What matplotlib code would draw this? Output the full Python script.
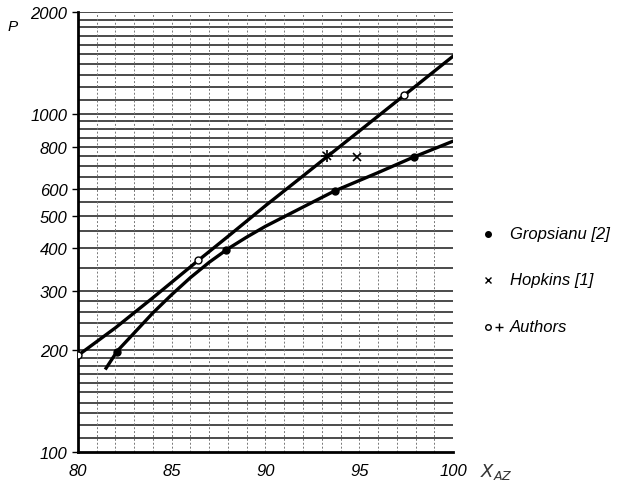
import numpy as np
import matplotlib.pyplot as plt
from matplotlib.lines import Line2D
from matplotlib.ticker import FixedLocator, FixedFormatter, NullLocator

plt.rcParams['font.family'] = ['Liberation Sans', 'DejaVu Sans']

# curves
x_authors_curve = [80, 82, 84, 86.4, 88, 90, 92, 93.3, 95, 97.4, 100]
p_authors_curve = [193, 233, 286, 368, 434, 535, 655, 748, 889, 1135, 1480]

x_grop_curve = [81.5, 82.1, 83, 84, 85, 86, 87, 88, 89, 90, 92, 93.7, 96, 97.9, 100]
p_grop_curve = [177, 199, 225, 258, 292, 328, 364, 399, 432, 465, 530, 592, 670, 745, 830]

# measured points
x_grop = [82.1, 87.9, 93.7, 97.9]
p_grop = [198, 396, 592, 745]

x_hopkins = [93.3, 94.9]
p_hopkins = [748, 743]

x_authors = [80, 86.4, 97.4]
p_authors = [193, 370, 1135]
x_authors_plus = [93.3]
p_authors_plus = [748]

yticks = [100, 200, 300, 400, 500, 600, 800, 1000, 2000]
xticks = [80, 85, 90, 95, 100]

fig = plt.figure(figsize=(6.36, 4.89), dpi=100)
ax = fig.add_axes([0.1226, 0.0736, 0.5897, 0.8998])
ax.set_yscale('log')
ax.set_xlim(80, 100)
ax.set_ylim(100, 2000)

# paper grid
levels = list(range(110, 200, 10)) + list(range(200, 300, 20)) + \
    list(range(300, 1000, 50)) + list(range(1000, 2001, 100))
for lv in levels:
    ax.axhline(lv, color='#1a1a1a', lw=1.1, zorder=1)
for xv in range(81, 101):
    ax.axvline(xv, color='#777777', lw=0.7, ls=(0, (2, 2)), zorder=1)

ax.plot(x_authors_curve, p_authors_curve, color='black', lw=2.4, zorder=3)
ax.plot(x_grop_curve, p_grop_curve, color='black', lw=2.4, zorder=3)

ax.plot(x_grop, p_grop, 'o', color='black', ms=5, zorder=4)
ax.plot(x_hopkins, p_hopkins, 'x', color='black', ms=6, mew=1.2, zorder=4)
ax.plot(x_authors, p_authors, 'o', mfc='white', mec='black', ms=5, mew=1, zorder=4)
ax.plot(x_authors_plus, p_authors_plus, '+', color='black', ms=8, mew=1.2, zorder=4)

ax.yaxis.set_major_locator(FixedLocator(yticks))
ax.yaxis.set_major_formatter(FixedFormatter([str(v) for v in yticks]))
ax.yaxis.set_minor_locator(NullLocator())
ax.set_xticks(xticks)
ax.set_xticklabels([str(v) for v in xticks])
ax.tick_params(axis='both', labelsize=12, length=4, width=1, direction='out')
ax.tick_params(axis='x', length=0, pad=8)
for lab in ax.get_xticklabels() + ax.get_yticklabels():
    lab.set_style('italic')

for side in ['top', 'right']:
    ax.spines[side].set_visible(False)
ax.spines['left'].set_linewidth(2)
ax.spines['bottom'].set_linewidth(2)

fig.text(0.012, 0.945, 'P', fontsize=11, style='italic', ha='left', va='center')
fig.text(0.755, 0.035, r'$\mathit{X}_{\mathit{AZ}}$', fontsize=13, ha='left', va='center',
         color='#333333')

# legend drawn by hand
fig.add_artist(Line2D([0.768], [1 - 235 / 489], marker='o', color='black', ms=4,
                      transform=fig.transFigure))
fig.text(0.802, 1 - 235 / 489, 'Gropsianu [2]', fontsize=12, style='italic', va='center')
fig.add_artist(Line2D([0.768], [1 - 281 / 489], marker='x', color='black', ms=4,
                      mew=1, transform=fig.transFigure))
fig.text(0.802, 1 - 281 / 489, 'Hopkins [1]', fontsize=12, style='italic', va='center')
fig.add_artist(Line2D([0.768], [1 - 328 / 489], marker='o', mfc='white', mec='black',
                      ms=4, transform=fig.transFigure))
fig.add_artist(Line2D([0.784], [1 - 328 / 489], marker='+', color='black', ms=6,
                      mew=1, transform=fig.transFigure))
fig.text(0.802, 1 - 328 / 489, 'Authors', fontsize=12, style='italic', va='center')

fig.savefig('out.png', dpi=100)
